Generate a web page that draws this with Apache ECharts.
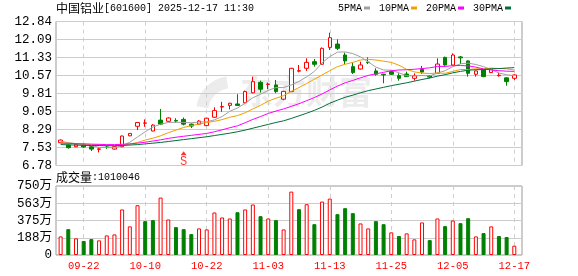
<!DOCTYPE html>
<html><head><meta charset="utf-8">
<script src="https://cdn.jsdelivr.net/npm/echarts@6/dist/echarts.min.js"></script>
<style>html,body{margin:0;padding:0;background:#fff}#c{width:578px;height:276px}</style>
</head><body><div id="c"></div>
<script>
const stockName = '中国铝业', stockCode = '601600', stamp = '2025-12-17 11:30';
const volTitle = '成交量';
const dates = ['09-17','09-18','09-19','09-22','09-23','09-24','09-25','09-26','09-29','09-30',
 '10-09','10-10','10-13','10-14','10-15','10-16','10-17','10-20','10-21','10-22',
 '10-23','10-24','10-27','10-28','10-29','10-30','10-31','11-03','11-04','11-05',
 '11-06','11-07','11-10','11-11','11-12','11-13','11-14','11-17','11-18','11-19',
 '11-20','11-21','11-24','11-25','11-26','11-27','11-28','12-01','12-02','12-03',
 '12-04','12-05','12-08','12-09','12-10','12-11','12-12','12-15','12-16','12-17'];
const opens = [7.74,7.64,7.57,7.67,7.57,7.46,7.56,7.47,7.57,8.03,
 8.43,8.56,8.23,8.69,8.64,8.67,8.72,8.52,8.52,8.46,
 8.81,9.24,9.31,9.37,9.42,9.84,10.28,10.19,10.17,9.57,
 9.89,10.75,10.87,11.15,11.04,11.75,11.89,11.43,10.94,10.84,
 11.13,10.76,10.62,10.73,10.56,10.63,10.45,10.83,10.55,10.66,
 11.33,11.01,11.35,11.18,10.62,10.80,10.69,10.56,10.47,10.45];
const closes = [7.85,7.53,7.67,7.56,7.47,7.48,7.54,7.57,8.02,8.13,
 8.59,8.57,8.48,8.52,8.78,8.65,8.52,8.44,8.65,8.77,
 9.09,9.26,9.40,9.31,9.89,10.31,9.99,10.21,9.89,9.90,
 10.87,10.77,11.12,11.04,11.71,12.16,11.71,11.18,10.69,11.01,
 11.11,10.62,10.59,10.62,10.45,10.52,10.56,10.71,10.50,11.05,
 11.01,11.43,11.31,10.66,10.76,10.52,10.83,10.58,10.31,10.59];
const lows = [7.72,7.49,7.55,7.53,7.39,7.33,7.48,7.45,7.55,8.01,
 8.27,8.41,8.22,8.48,8.62,8.58,8.47,8.36,8.50,8.45,
 8.79,9.04,9.14,9.29,9.40,9.82,9.85,9.99,9.82,9.53,
 9.87,10.70,10.76,10.94,11.02,11.64,11.64,11.05,10.63,10.82,
 11.05,10.56,10.24,10.60,10.35,10.50,10.35,10.63,10.45,10.64,
 10.98,10.99,11.05,10.52,10.52,10.50,10.67,10.52,10.14,10.38];
const highs = [7.88,7.66,7.69,7.69,7.58,7.55,7.62,7.58,8.04,8.14,
 8.60,8.72,8.52,9.16,8.81,8.77,8.80,8.55,8.69,8.79,
 9.23,9.46,9.42,9.78,9.93,10.52,10.35,10.27,10.38,9.92,
 10.89,11.01,11.29,11.26,11.75,12.37,12.09,11.53,11.11,11.15,
 11.33,10.87,10.64,10.76,10.66,10.73,10.66,10.97,10.58,11.29,
 11.36,11.50,11.39,11.20,10.78,10.82,10.85,10.69,10.49,10.61];
const ma5 = [7.80,7.74,7.70,7.65,7.62,7.54,7.54,7.52,7.62,7.76,
 7.98,8.20,8.40,8.52,8.59,8.60,8.59,8.58,8.61,8.62,
 8.70,8.84,9.06,9.20,9.40,9.63,9.78,9.94,10.06,10.06,
 10.17,10.32,10.51,10.74,11.10,11.36,11.55,11.56,11.49,11.35,
 11.14,10.92,10.80,10.79,10.68,10.56,10.55,10.57,10.55,10.67,
 10.77,10.94,11.06,11.09,11.03,10.94,10.82,10.67,10.60,10.56];
const ma10 = [7.75,7.72,7.70,7.68,7.66,7.64,7.63,7.62,7.65,7.68,
 7.75,7.85,7.93,8.03,8.16,8.27,8.38,8.46,8.52,8.59,
 8.64,8.71,8.81,8.88,9.00,9.16,9.31,9.49,9.61,9.72,
 9.90,10.06,10.23,10.41,10.59,10.77,10.94,11.04,11.12,11.22,
 11.25,11.22,11.17,11.12,11.00,10.83,10.72,10.67,10.65,10.67,
 10.66,10.74,10.82,10.82,10.85,10.85,10.88,10.86,10.85,10.80];
const ma20 = [7.72,7.71,7.70,7.69,7.68,7.67,7.66,7.66,7.67,7.69,
 7.72,7.76,7.81,7.86,7.92,7.97,8.01,8.05,8.09,8.13,
 8.20,8.28,8.37,8.45,8.58,8.72,8.84,8.97,9.07,9.16,
 9.27,9.38,9.51,9.64,9.79,9.96,10.12,10.26,10.36,10.47,
 10.57,10.64,10.70,10.77,10.80,10.81,10.83,10.86,10.89,10.95,
 10.95,10.98,10.99,10.97,10.92,10.84,10.80,10.77,10.75,10.74];
const ma30 = [7.66,7.65,7.64,7.63,7.62,7.62,7.61,7.61,7.62,7.64,
 7.66,7.69,7.72,7.75,7.79,7.83,7.87,7.91,7.95,7.99,
 8.04,8.09,8.14,8.20,8.27,8.35,8.43,8.51,8.59,8.66,
 8.76,8.87,8.98,9.10,9.24,9.40,9.53,9.65,9.74,9.84,
 9.93,10.00,10.07,10.14,10.20,10.26,10.33,10.40,10.46,10.54,
 10.60,10.68,10.74,10.79,10.81,10.82,10.85,10.86,10.88,10.90];
// volume in units of 10k (万)
const volumesWan = [202,281,181,152,173,159,213,224,495,311,
 541,368,379,624,386,303,281,227,289,278,
 462,408,397,465,495,549,422,397,379,278,
 689,498,552,335,581,613,444,509,455,343,
 289,368,335,246,206,235,170,354,162,397,
 314,375,346,400,202,238,311,206,195,101.0046];
// 1 = red (up vs previous close), 0 = green
const volUp = [1,0,1,0,0,1,1,1,1,1, 1,0,0,1,1,0,0,0,1,1, 1,1,1,0,1,1,0,1,0,1,
 1,0,1,0,1,1,0,0,0,1, 1,0,0,1,0,1,1,1,0,1, 0,1,0,0,1,0,1,0,0,1];
const priceTicks = ['12.84','12.09','11.33','10.57','9.81','9.05','8.29','7.53','6.78'];
const volTickLabels = ['0','188万','375万','563万','750万'];
const volTickValues = [0,187.5,375,562.5,750];
const dateTicks = ['09-22','10-10','10-22','11-03','11-13','11-25','12-05','12-17'];
const maNames = ['5PMA','10PMA','20PMA','30PMA'];
const signalDate = '10-17', signalText = 'S', signalPrice = 7.30;
const watermark = '东方财富';

const MONO = "'Liberation Mono', monospace";
const CJK = "'Noto Sans CJK SC'";
const MIX = "'Liberation Mono','Noto Sans CJK SC', monospace";
const UP = '#ff0000', DOWN = '#008000';
const maColors = ['#a0a0a0', '#f0a000', '#ff00ff', '#00703a'];

const N = dates.length;
const xMin = -0.6, xMax = N;
const dateIdx = dateTicks.map(d => dates.indexOf(d));
const priceVals = priceTicks.map(Number);
const candle = dates.map((d, i) => [i, opens[i], closes[i], lows[i], highs[i]]);
const mas = [ma5, ma10, ma20, ma30];
const lastVol = Math.round(volumesWan[N - 1] * 10000);

const chart = echarts.init(document.getElementById('c'), null, {renderer: 'canvas', width: 578, height: 276});

function xAxisCfg(gi, showLabel) {
  return {
    type: 'value', gridIndex: gi, min: xMin, max: xMax,
    axisLine: {show: false},
    axisTick: {show: false, customValues: dateIdx},
    axisLabel: {show: showLabel, customValues: dateIdx, formatter: v => dates[Math.round(v)] || '',
      color: UP, fontFamily: MONO, fontSize: 10.5, margin: 6},
    splitLine: {show: true, lineStyle: {color: '#cfcfcf', type: [4, 4], width: 1}}
  };
}
const richTitle = {cn: {fontFamily: CJK, fontSize: 12, color: '#000', fontWeight: 'normal'},
                   en: {fontFamily: MONO, fontSize: 10, color: '#000', fontWeight: 'normal'}};

const option = {
  animation: false,
  backgroundColor: '#ffffff',
  title: [
    {text: '{cn|' + stockName + '}{en|[' + stockCode + '] ' + stamp + '}', left: 56, top: 2, padding: 0,
     textStyle: {fontWeight: 'normal', rich: richTitle}},
    {text: '{cn|' + volTitle + '}{en|:' + lastVol + '}', left: 56, top: 171, padding: 0,
     textStyle: {fontWeight: 'normal', rich: richTitle}}
  ],
  legend: {
    data: maNames, left: 338, top: 3, padding: 0, itemGap: 9, align: 'right', icon: 'rect',
    itemWidth: 6, itemHeight: 3, selectedMode: false,
    textStyle: {fontFamily: MONO, fontSize: 10, color: '#000', padding: [0, -3, 0, 0]}
  },
  grid: [
    {left: 56, right: 56, top: 21.5, height: 144, show: true, borderColor: '#999', borderWidth: 1, backgroundColor: 'transparent'},
    {left: 56, right: 56, top: 186, height: 69, show: true, borderColor: '#999', borderWidth: 1, backgroundColor: 'transparent'}
  ],
  xAxis: [xAxisCfg(0, false), xAxisCfg(1, true)],
  yAxis: [
    {type: 'value', gridIndex: 0, min: 6.78, max: 12.84,
     axisLine: {show: false}, axisTick: {show: false, customValues: priceVals},
     axisLabel: {customValues: priceVals, formatter: v => {
        let k = 0, best = 1e9; priceVals.forEach((p, j) => { if (Math.abs(p - v) < best) { best = Math.abs(p - v); k = j; } });
        return priceTicks[k]; },
       fontFamily: MONO, fontSize: 12.5, color: '#000', margin: 4},
     splitLine: {show: true, lineStyle: {color: '#cccccc', width: 1}}},
    {type: 'value', gridIndex: 1, min: 0, max: 750,
     axisLine: {show: false}, axisTick: {show: false, customValues: volTickValues},
     axisLabel: {customValues: volTickValues, formatter: v => volTickLabels[volTickValues.indexOf(v)],
       fontFamily: MIX, fontSize: 12.5, color: '#000', margin: 4},
     splitLine: {show: true, lineStyle: {color: '#cccccc', width: 1}}}
  ],
  graphic: [
    {type: 'text', left: 240, top: 75, z: -10, silent: true,
     style: {text: watermark, fill: '#ececec', font: 'bold 33px "Noto Sans CJK SC"'}},
    {type: 'sector', z: -10, silent: true, shape: {cx: 232, cy: 112, r: 36, r0: 24, startAngle: Math.PI * 1.05, endAngle: Math.PI * 1.45},
     style: {fill: '#ececec'}}
  ],
  series: [
    {type: 'candlestick', name: 'K', xAxisIndex: 0, yAxisIndex: 0, data: candle, barWidth: 4,
     itemStyle: {color: '#ffffff', color0: DOWN, borderColor: UP, borderColor0: DOWN, borderWidth: 1}, z: 3},
    ...mas.map((arr, k) => ({
      type: 'line', name: maNames[k], xAxisIndex: 0, yAxisIndex: 0,
      data: arr.map((v, i) => [i, v]), showSymbol: false, symbol: 'none', smooth: false,
      lineStyle: {color: maColors[k], width: 1}, itemStyle: {color: maColors[k]}, z: 4
    })),
    {type: 'scatter', name: 'signal', xAxisIndex: 0, yAxisIndex: 0,
     data: [[dates.indexOf(signalDate), signalPrice]], symbol: 'triangle', symbolSize: [6, 4],
     itemStyle: {color: UP},
     label: {show: true, position: 'bottom', distance: 1, formatter: signalText, color: UP, fontFamily: MONO, fontSize: 12}},
    {type: 'bar', name: 'VOL', xAxisIndex: 1, yAxisIndex: 1, barWidth: 4,
     data: volumesWan.map((v, i) => ({value: [i, v], itemStyle: volUp[i]
        ? {color: '#ffffff', borderColor: UP, borderWidth: 1}
        : {color: DOWN, borderColor: DOWN, borderWidth: 1}}))}
  ]
};
chart.setOption(option);
</script></body></html>
